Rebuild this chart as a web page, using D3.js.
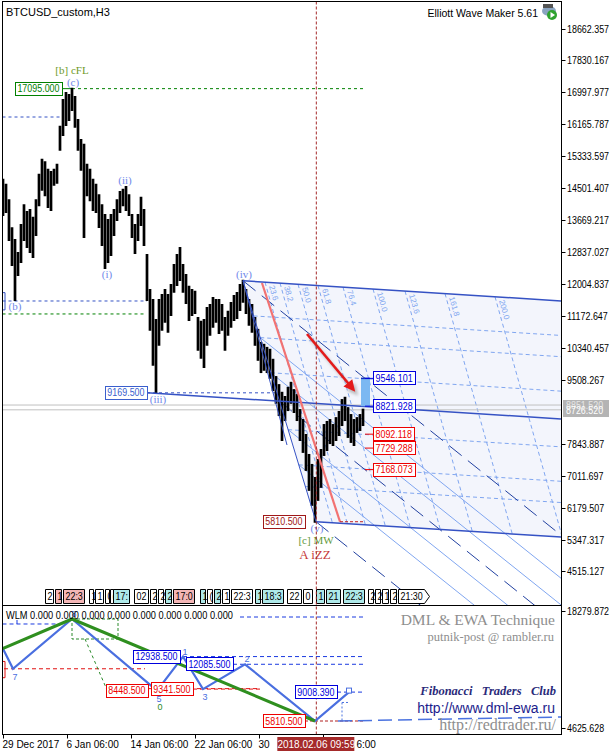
<!DOCTYPE html>
<html><head><meta charset="utf-8">
<script src="https://cdn.jsdelivr.net/npm/d3@7"></script>
<style>
body{margin:0;background:#fff}
svg{display:block}
text{font-family:"Liberation Sans",Arial,sans-serif}
.serif{font-family:"Liberation Serif","DejaVu Serif",serif}
</style>
</head><body>
<svg id="c" width="615" height="751"></svg>
<script>
// ---- data (H3 bars, one sample every 3 bars) ----
const t0 = new Date(2017, 11, 29, 6);
const sampleBars = 3;
const highs = [14720,14590,14190,13460,13150,12810,13540,14060,13880,13930,
  13730,14190,14850,15240,15180,14980,14920,14980,15110,16100,
  16800,16980,16930,17095,16880,16280,15760,15630,15110,14980,
  14720,14590,14320,14060,13800,13670,13800,13930,14190,14400,
  14460,14530,14320,13800,13540,13800,14250,13930,12760,11850,
  11590,11070,11590,11720,11850,11720,11980,12500,12760,12940,
  12500,12240,11930,11850,11800,11120,11020,11070,11380,11460,
  11640,11590,11590,11460,11120,11280,11510,11690,11770,11980,
  12090,11850,11590,11460,11120,10810,10470,10420,10340,10290,
  10030,9580,9370,9170,9060,9300,9430,9240,9110,8720,
  8460,8070,7550,7290,6950,7420,7680,8330,8410,8460,
  8330,8510,8670,8980,9040,8770,8590,8460,8510,8590,8730];
const lows = [13800,13880,13150,12500,11588,12240,12580,13150,12970,12840,
  12710,13280,14060,14460,14320,14010,13930,14590,14640,15500,
  15890,16150,16280,16540,16100,15500,14980,13230,14320,14190,
  13930,13880,13490,13020,12420,12580,12760,13280,13670,13880,
  14060,13930,13800,13230,12810,13150,13540,13020,11590,10810,
  9900,9169.5,10420,10810,11020,10760,11200,11800,11980,12110,
  11800,11510,11070,11200,11250,10290,10080,9840,10420,10680,
  10890,11020,10730,10810,10290,10680,10890,11070,11120,11330,
  11540,11250,10940,10760,10420,10030,9710,9770,9710,9560,
  9240,8910,8590,7940,8460,8720,8910,8670,8460,7940,
  7630,7160,6640,6250,5810.5,6380,6720,7550,7680,7860,
  7810,7940,8070,8330,8460,8020,7890,7810,8150,8200,8330];

const priceTicks = [18662.357,17830.167,16997.977,16165.787,15333.597,14501.407,13669.217,
  12837.027,12004.837,11172.647,10340.457,9508.267,7843.887,7011.697,6179.507,5347.317,4515.127];
const timeTicks = [new Date(2017,11,29,6), new Date(2018,0,6,6), new Date(2018,0,14,6),
  new Date(2018,0,22,6), new Date(2018,0,30,6), new Date(2018,1,7,6)];
const timeLabels = ["29 Dec 2017","6 Jan 06:00","14 Jan 06:00","22 Jan 06:00","30 Jan 06:00","7 Feb 06:00"];
const cursorTime = new Date(2018,1,6,9,59);
const bid = 8726.52, ask = 8851.52;

// Elliott waves
const waveLabels = ["(b)","(c)","(i)","(ii)","(iii)","(iv)","(v)"];
const waveBars   = [11, 69, 103, 121, 154, 240, 313];
const wavePrices = [11588, 17095, 12422, 14530, 9169.5, 12090, 5810.5];
const waveBelow  = [1, 0, 1, 0, 1, 0, 1];

// channel from (iv)-(v)
const channelTopEnd = 11562, channelMidStart = 9169.5, channelMidEnd = 8488, channelBotEnd = 5413;
const channelEndBar = 558, channelMidBar = 144;
const channelFibs = [0.146, 0.236, 0.382, 0.618, 0.764, 0.854];
const timeFibBars = [262, 277, 295, 315, 340, 370, 402, 442, 492];
const timeFibLabels = ["23.6","38.2","50.0","61.8","76.4","100.0","123.6","161.8","200.0"];
const darkDiag = [0, 0.5, 1];
const lightDiag = [0.236, 0.382, 0.618, 0.764];
const targetLevels = [9546.101, 8821.928, 8092.118, 7729.288, 7168.073];
const targetIsBlue = [1, 1, 0, 0, 0];

// time tags row
const tagText = ["2","1","22:30","1","1","0","(","17:45","02:00","2","2","2","17:00","1","(","2","1","22:30","1","18:30","22:00","02:00","1","21:00","22:30","2","2","1","2","21:30"];
const tagFill = ["w","p","p","w","w","w","w","c","w","w","w","c","p","c","w","c","w","w","c","c","w","w","c","c","c","w","w","w","w","w"];
const tagBars = [42,52,60,86,92,102,107,110,131,147,155,162,170,197,204,211,219,228,252,259,284,300,313,323,340,365,372,379,387,395];

// WLM sub-window
const zigBars   = [-1, 10, 69, 154, 180, 200, 242, 312, 346];
const zigPrices = [14030, 11588, 17095, 9169.5, 12938.5, 9341.5, 12085.5, 5810.5, 9008.39];
const greenBars = [-1, 69, 312];
const greenPrices = [13795, 17095, 5810.5];
const zigDigits = ["7","8","5","1","3","2"];
const zigDigitIdx = [1, 2, 3, 4, 5, 6];
const subBoxText  = ["12938.500","12085.500","9341.500","8448.500","9008.390","5810.500"];
const subBoxLevel = [12938.5, 12085.5, 9341.5, 9169.5, 9008.39, 5810.5];
const subBoxBar   = [177, 230, 190, 145, 334, 302];
const subBoxBlue  = [1, 1, 0, 0, 1, 0];
const subTicks = [18279.872, 4625.628];

// ---- scales ----
const H3 = 3 * 3600e3;
const bt = b => new Date(+t0 + b * H3);
const x = d3.scaleTime().domain([t0, bt(558)]).range([3, 561]);
const bx = b => x(bt(b));
const y = d3.scaleLinear().domain([18662.357, 5347.317]).range([28.5, 539.5]);
const y2 = d3.scaleLinear().domain([17095, 5810.5]).range([619, 721]);

const L = 2.5, R = 561.5, T = 1.5, MB = 605.5, SB = 734.5;
const BLUE = "#3552c4", LBLUE = "#80a6f0", WAVE = "#7088ea";
const NARROW = 0.89; // terminal font is narrower than Liberation Sans

const svg = d3.select("#c");
const defs = svg.append("defs");
defs.append("clipPath").attr("id","mc").append("rect").attr("x",L).attr("y",T).attr("width",R-L).attr("height",MB-T);
defs.append("clipPath").attr("id","sc").append("rect").attr("x",L).attr("y",MB).attr("width",R-L).attr("height",SB-MB);
defs.append("filter").attr("id","blur").append("feGaussianBlur").attr("stdDeviation",1.6);
function marker(id, col) {
  defs.append("marker").attr("id",id).attr("viewBox","0 0 10 10").attr("refX",7).attr("refY",5)
    .attr("markerWidth",5).attr("markerHeight",4.4).attr("orient","auto")
    .append("path").attr("d","M0,0L10,5L0,10z").attr("fill",col);
}
marker("ah","#e41b1b"); marker("ahs","#999");

function seg(g, a, b, col, w, dash) {
  return g.append("line").attr("x1",a[0]).attr("y1",a[1]).attr("x2",b[0]).attr("y2",b[1])
    .attr("stroke",col).attr("stroke-width",w || 1).attr("stroke-dasharray",dash || null);
}
function txt(g, xx, yy, s, o) {
  o = o || {};
  const t = g.append("text").attr("x",xx).attr("y",yy).text(s)
    .attr("font-size",o.size || 10).attr("fill",o.fill || "#000")
    .attr("text-anchor",o.anchor || "start");
  if (o.cls) t.attr("class",o.cls);
  if (o.style) t.attr("font-style",o.style);
  if (o.weight) t.attr("font-weight",o.weight);
  if (o.len) t.attr("textLength",o.len).attr("lengthAdjust","spacingAndGlyphs");
  if (o.narrow) {
    const w = t.node().getComputedTextLength();
    t.attr("textLength", w * NARROW).attr("lengthAdjust","spacingAndGlyphs");
  }
  return t;
}
function tw(t) { return +t.attr("textLength") || t.node().getComputedTextLength(); }
// value box; side "l" = xx is left edge, "r" = xx is right edge
function valBox(g, xx, yc, label, col, side, o) {
  o = o || {};
  const t = txt(g, 0, yc + 3.5, label, {fill: o.text || col, narrow: true});
  const w = tw(t) + 5;
  const xl = side === "r" ? xx - w : xx;
  t.attr("x", xl + 2.5);
  g.insert("rect", () => t.node()).attr("x", Math.round(xl) + 0.5).attr("y", Math.round(yc) - 6.5)
    .attr("width", Math.round(w)).attr("height", 13).attr("fill", o.bg || "#fff").attr("stroke", col);
  return w;
}

// ---- main window ----
const m = svg.append("g").attr("clip-path","url(#mc)");

const iv = [bx(240), y(12090)], v = [bx(313), y(5810.5)];
const topR = [bx(channelEndBar), y(channelTopEnd)], botR = [bx(channelEndBar), y(channelBotEnd)];
const lerp = (a, b, f) => [a[0] + (b[0]-a[0])*f, a[1] + (b[1]-a[1])*f];

m.append("path").attr("d", d3.line()([iv, topR, botR, v])).attr("fill","#f3f5fc");

// channel fib levels
channelFibs.forEach(f => seg(m, lerp(iv, v, f), lerp(topR, botR, f), LBLUE, 1, "4,3"));
// time fib lines
const sTop = (topR[1]-iv[1])/(topR[0]-iv[0]), sBot = (botR[1]-v[1])/(botR[0]-v[0]);
const kx = 0.28;
timeFibBars.forEach((b, i) => {
  const xs = bx(b), ys = iv[1] + (xs - iv[0]) * sTop;
  const t = (v[1] + (xs - v[0]) * sBot - ys) / (1 - kx * sBot);
  seg(m, [xs, ys], [xs + kx*t, ys + t], LBLUE, 1, "4,3");
  m.append("text").attr("transform", `translate(${xs+4},${ys+4}) rotate(74)`)
    .attr("font-size", 8).attr("fill", LBLUE).text(timeFibLabels[i]);
});
// parallel diagonals
lightDiag.forEach(f => { const a = lerp(iv, v, f); seg(m, a, [a[0]+400, a[1]+320], LBLUE, 1); });
darkDiag.forEach(f => { const a = lerp(iv, v, f); seg(m, a, [a[0]+400, a[1]+320], "#2140a0", 1, "16,8"); });

// left-side levels
seg(m, [L, y(16356)], [bx(57), y(16356)], BLUE, 1, "3,3");
seg(m, [L, y(11562)], [bx(144), y(11562)], BLUE, 1, "3,3");
seg(m, [L, y(11224)], [bx(142), y(11224)], "#008000", 1, "3,3");
m.append("path").attr("d", `M${L},${y(11780)}H5V${y(11330)}H${L}`).attr("fill","none").attr("stroke",BLUE);
seg(m, [bx(59), y(17095)], [bx(69), y(17095)], "#008000", 1);
seg(m, [bx(69), y(17095)], [bx(362), y(17095)], "#008000", 1, "3,3");
seg(m, [bx(144), y(9169.5)], [bx(274), y(9169.5)], BLUE, 1, "3,3");

// bid / ask
[ask, bid].forEach(p => seg(m, [L, y(p)], [R, y(p)], "#c0c0c0", 1));

// price bars
m.append("g").selectAll("line").data(highs).join("line")
  .attr("x1", (d, i) => bx(i * sampleBars)).attr("x2", (d, i) => bx(i * sampleBars))
  .attr("y1", d => y(d) - 1).attr("y2", (d, i) => y(lows[i]) + 1)
  .attr("stroke", "#000").attr("stroke-width", 2.7);

// channel solid lines
seg(m, iv, topR, BLUE, 1.5);
seg(m, [bx(channelMidBar), y(channelMidStart)], [bx(channelEndBar), y(channelMidEnd)], BLUE, 1.5);
seg(m, v, botR, BLUE, 1.5);
seg(m, iv, v, BLUE, 1);
seg(m, iv, [bx(284), y(7810)], BLUE, 1);

// red projection line
seg(m, [bx(259), y(12031)], [bx(337), y(5810.5)], "#f27272", 2.2);
seg(m, [bx(337), y(5810.5)], [bx(362), y(5810.5)], "#c02020", 1, "3,2");

// arrow
const a1 = [bx(304), y(10702)], a2 = [bx(350), y(9269)];
seg(m, [a1[0]+3, a1[1]+4], [a2[0]+3, a2[1]+4], "#999", 2.6).attr("filter","url(#blur)").attr("opacity",0.6)
  .attr("marker-end","url(#ahs)");
seg(m, a1, a2, "#e41b1b", 2.6).attr("marker-end","url(#ah)");

// target zone
m.append("rect").attr("x", bx(358)).attr("y", y(targetLevels[0])).attr("width", bx(367) - bx(358))
  .attr("height", y(targetLevels[1]) - y(targetLevels[0])).attr("fill","#7cb8f2");
seg(m, [bx(358), y(targetLevels[0])], [bx(367), y(targetLevels[0])], "#1030c0", 1.5);
targetLevels.forEach((p, i) => {
  const col = targetIsBlue[i] ? "#0000dd" : "#ee0000";
  seg(m, [bx(362), y(p)], [bx(370), y(p)], col, 1);
  valBox(m, bx(370), y(p), p.toFixed(3), col, "l");
});

valBox(m, bx(59), y(17095), "17095.000", "#008000", "r");
valBox(m, bx(144), y(9169.5), "9169.500", "#3a5fcd", "r");
valBox(m, bx(302), y(5810.5), "5810.500", "#a01818", "r");

// cursor line
svg.append("line").attr("x1", x(cursorTime)).attr("x2", x(cursorTime)).attr("y1", T).attr("y2", SB)
  .attr("stroke", "#a52a2a").attr("stroke-dasharray", "3,2");

// wave labels
waveLabels.forEach((s, i) => {
  txt(m, bx(waveBars[i]) + 1, y(wavePrices[i]) + (waveBelow[i] ? 10 : -3), s,
    {cls: "serif", size: 11, fill: WAVE, anchor: "middle"});
});
txt(m, bx(69), 74, "[b] cFL", {cls: "serif", size: 11, fill: "#6f9a2a", anchor: "middle"});
txt(m, bx(313), 544, "[c] MW", {cls: "serif", size: 11, fill: "#5f9a3a", anchor: "middle"});
txt(m, bx(312), 559, "A iZZ", {cls: "serif", size: 13, fill: "#c63a3a", anchor: "middle"});

// time tags: each tag is cut where the next one starts
const tagCol = {w: "#fff", p: "#f4b6b6", c: "#aee9e9"};
const tg = m.append("g");
tagText.forEach((s, i) => {
  const xl = Math.round(bx(tagBars[i])) + 0.5;
  const last = i === tagText.length - 1;
  const room = last ? 99 : Math.round(bx(tagBars[i + 1])) - xl - 1.5;
  const g = tg.append("g");
  let label = s;
  let t = txt(g, xl + 2, 600, label, {size: 10, narrow: true});
  while (label.length > 1 && tw(t) + 3 > room) {
    label = label.slice(0, -1);
    t.remove();
    t = txt(g, xl + 2, 600, label, {size: 10, narrow: true});
  }
  const w = Math.max(4, Math.min(Math.round(tw(t) + 4), Math.floor(room)));
  const d = last ? `M${xl},589.5H${xl+w}L${xl+w+5},596.5L${xl+w},603.5H${xl}Z`
                 : `M${xl},589.5H${xl+w}V603.5H${xl}Z`;
  g.insert("path", () => t.node()).attr("d", d).attr("fill", tagCol[tagFill[i]]).attr("stroke", "#000");
});

// titles
txt(svg, 6, 16, "BTCUSD_custom,H3", {size: 11});
txt(svg, 538, 17, "Elliott Wave Maker 5.61", {size: 10.5, anchor: "end"});
const ic = svg.append("g").attr("transform", "translate(549,13)");
ic.append("ellipse").attr("rx", 7).attr("ry", 5).attr("cy", -2).attr("fill", "#8aa4c0");
ic.append("rect").attr("x", -6).attr("y", -9).attr("width", 10).attr("height", 4).attr("fill", "#555");
ic.append("circle").attr("cx", 3).attr("cy", 2).attr("r", 5).attr("fill", "#2fa32f");
ic.append("path").attr("d", "M1.5,-1L6,2L1.5,5Z").attr("fill", "#fff");

// ---- sub window ----
const s = svg.append("g").attr("clip-path", "url(#sc)");
seg(s, [L, y2(16542)], [bx(54), y2(16542)], "#1a3ae0", 1, "4,3");
seg(s, [bx(14), y2(16542) - 4], [bx(14), y2(16542)], "#1a3ae0", 1);
seg(s, [bx(237), y2(17316)], [bx(360), y2(17316)], "#1a3ae0", 1, "4,3");
seg(s, [bx(180), y2(12938.5)], [bx(360), y2(12938.5)], "#1a3ae0", 1, "4,3");
seg(s, [bx(230), y2(12085.5)], [bx(360), y2(12085.5)], "#1a3ae0", 1, "4,3");
seg(s, [bx(334), y2(9008.39)], [bx(359), y2(9008.39)], "#1a3ae0", 1, "4,3");
seg(s, [bx(1), y2(11588)], [bx(142), y2(11588)], "#e01010", 1, "4,3");
seg(s, [bx(190), y2(9341.5)], [bx(257), y2(9341.5)], "#e01010", 1, "4,3");
seg(s, [bx(145), y2(9169.5) - 2], [bx(257), y2(9169.5) - 2], "#e01010", 1, "4,3");
seg(s, [bx(302), y2(5810.5)], [bx(360), y2(5810.5)], "#b02020", 1, "3,2");
s.append("path").attr("d", `M${L},${y2(12400)}H5V${y2(10600)}H${L}`).attr("fill", "none").attr("stroke", "#e01010");
seg(s, [bx(335), y2(5810.5)], [bx(558), y2(6253)], "#4a72e0", 1.5, "14,6");
s.append("rect").attr("x", bx(69)).attr("y", y2(17095)).attr("width", bx(115) - bx(69))
  .attr("height", y2(14882) - y2(17095)).attr("fill", "none").attr("stroke", "#2a8a2a").attr("stroke-dasharray", "3,2");
seg(s, [bx(82), y2(14882)], [bx(107), y2(8480)], "#2a8a2a", 1, "3,3");
seg(s, [bx(339), y2(7860)], [bx(339), y2(5810.5)], "#4a72e0", 1, "2,2");
seg(s, [bx(339), y2(7860)], [bx(346), y2(7860)], "#4a72e0", 1, "2,2");

const zl = d3.line().x(d => bx(d[0])).y(d => y2(d[1]));
s.append("path").attr("d", zl(zigBars.map((b, i) => [b, zigPrices[i]]))).attr("fill", "none")
  .attr("stroke", "#4a6fe0").attr("stroke-width", 2.2);
s.append("path").attr("d", zl(greenBars.map((b, i) => [b, greenPrices[i]]))).attr("fill", "none")
  .attr("stroke", "#2f8f1f").attr("stroke-width", 3);
const lastZ = zigBars.length - 1;
s.append("rect").attr("x", bx(zigBars[lastZ]) - 2.5).attr("y", y2(zigPrices[lastZ]) - 4)
  .attr("width", 5).attr("height", 5).attr("fill", "#fff").attr("stroke", "#4a6fe0");

zigDigits.forEach((dg, i) => {
  const k = zigDigitIdx[i], below = zigPrices[k] < zigPrices[k-1];
  txt(s, bx(zigBars[k]) + 2, y2(zigPrices[k]) + (below ? 11 : -2), dg, {size: 9, fill: "#4a6fe0", anchor: "middle"});
});
txt(s, bx(154) + 3, y2(9169.5) + 19, "0", {size: 9, fill: "#2a8a2a", anchor: "middle"});

subBoxText.forEach((lab, i) => {
  const col = subBoxBlue[i] ? "#0000dd" : "#ee0000";
  valBox(s, bx(subBoxBar[i]), y2(subBoxLevel[i]), lab, col, "r");
});

txt(svg, 6, 619, "WLM 0.000 0.000 0.000 0.000 0.000 0.000 0.000 0.000", {size: 10.5, len: 227});
txt(svg, 555, 625, "DML & EWA Technique", {cls: "serif", size: 15.5, fill: "#8e8e8e", anchor: "end"});
txt(svg, 554, 641, "putnik-post @ rambler.ru", {cls: "serif", size: 12.5, fill: "#8e8e8e", anchor: "end"});
txt(svg, 556, 695, "Fibonacci   Traders   Club", {cls: "serif", size: 12.5, fill: "#2a2a7a", anchor: "end", style: "italic", weight: "bold"})
  .attr("xml:space", "preserve").style("white-space", "pre");
txt(svg, 555, 713, "http://www.dml-ewa.ru", {size: 14, fill: "#1c1c8c", anchor: "end"});
txt(svg, 556, 730, "http://redtrader.ru/", {cls: "serif", size: 16, fill: "#8e8e8e", anchor: "end"});

// ---- frames & axes ----
svg.append("rect").attr("x", L).attr("y", T).attr("width", R - L).attr("height", MB - T).attr("fill", "none").attr("stroke", "#000");
svg.append("rect").attr("x", L).attr("y", MB).attr("width", R - L).attr("height", SB - MB).attr("fill", "none").attr("stroke", "#000");

priceTicks.forEach(p => {
  const yy = Math.round(y(p)) + 0.5;
  seg(svg, [R, yy], [R + 4, yy], "#000", 1);
  txt(svg, 567, yy + 3.5, p.toFixed(3), {size: 10, narrow: true});
});
// bid/ask label box on axis
svg.append("rect").attr("x", 563).attr("y", y(ask) - 5).attr("width", 46).attr("height", 17).attr("fill", "#b4b4b4");
txt(svg, 566, y(ask) + 3.5, ask.toFixed(3), {size: 10, fill: "#e4e4e4", narrow: true});
txt(svg, 566, y(bid) + 4, bid.toFixed(3), {size: 10, fill: "#fff", narrow: true});

[611.5, 728.5].forEach((yy, i) => {
  seg(svg, [R, yy], [R + 4, yy], "#000", 1);
  txt(svg, 567, yy + 3.5, subTicks[i].toFixed(3), {size: 10, narrow: true});
});

// time axis; labels hidden behind the cursor box are cut at its edges
const cx = x(cursorTime), cL = cx - 39, cR = cx + 38;
timeTicks.forEach((d, i) => {
  const xx = Math.round(x(d)) + 0.5;
  seg(svg, [xx, SB], [xx, SB + 4], "#000", 1);
  let label = timeLabels[i];
  let t = txt(svg, xx - 1, 748, label, {size: 10});
  const end = xx - 1 + tw(t);
  if (xx - 1 < cL && end > cL) {
    while (label.length > 1 && xx - 1 + tw(t) > cL) { label = label.slice(0, -1); t.text(label); }
  } else if (xx - 1 >= cL && xx - 1 < cR) {
    while (label.length > 1 && end - tw(t) < cR) { label = label.slice(1); t.text(label); }
    t.attr("x", end).attr("text-anchor", "end");
  }
});
svg.append("rect").attr("x", cL).attr("y", 737).attr("width", cR - cL).attr("height", 14).attr("fill", "#a52a2a");
txt(svg, cx, 748, d3.timeFormat("%Y.%m.%d %H:%M")(cursorTime), {size: 10, fill: "#fff", anchor: "middle"});
</script>
</body></html>
